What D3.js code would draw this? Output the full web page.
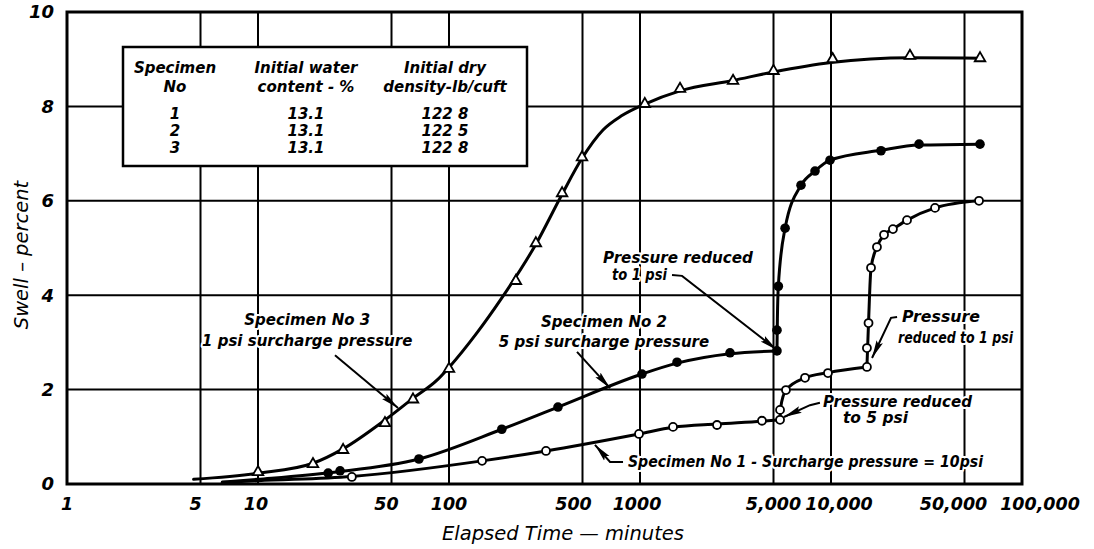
<!DOCTYPE html>
<html>
<head>
<meta charset="utf-8">
<script src="https://cdn.jsdelivr.net/npm/d3@7"></script>
<style>
  html, body { margin: 0; padding: 0; background: #fff; }
  svg text { font-family: "DejaVu Sans", "Liberation Sans", sans-serif; font-style: italic; fill: #000; }
</style>
</head>
<body>
<svg id="chart" width="1094" height="549"></svg>
<script>
// ---- Axis ticks -------------------------------------------------------
const xTicks      = [1, 5, 10, 50, 100, 500, 1000, 5000, 10000, 50000, 100000];
const xTickLabels = ["1", "5", "10", "50", "100", "500", "1000", "5,000", "10,000", "50,000", "100,000"];
const yTicks      = [0, 2, 4, 6, 8, 10];

// ---- Specimen table ---------------------------------------------------
const specimenNo   = ["1", "2", "3"];
const waterContent = ["13.1", "13.1", "13.1"];
const dryDensity   = ["122 8", "122 5", "122 8"];

// ---- Specimen 3: 1 psi surcharge (open triangles) ---------------------
const spec3Time  = [10, 19.4, 27.9, 46.2, 64.8, 100, 224, 285, 391, 497, 1060, 1620, 3070, 5000, 10200, 25900, 60300];
const spec3Swell = [0.23, 0.40, 0.70, 1.27, 1.77, 2.42, 4.28, 5.08, 6.14, 6.90, 8.03, 8.35, 8.52, 8.73, 8.98, 9.05, 9.00];
const spec3FitTime  = [4.6, 10, 19.4, 28, 46, 65, 86.5, 100, 140, 186, 285, 391, 497, 640, 800, 1060, 1620, 3070, 5000, 10000, 26000, 60000];
const spec3FitSwell = [0.10, 0.23, 0.44, 0.75, 1.35, 1.82, 2.20, 2.47, 3.20, 3.90, 5.08, 6.14, 6.90, 7.50, 7.80, 8.05, 8.33, 8.55, 8.73, 8.93, 9.03, 9.02];

// ---- Specimen 2: 5 psi surcharge, later reduced to 1 psi (filled dots) -
const spec2Time  = [23.3, 26.9, 69.6, 189, 372, 1024, 1563, 2960, 5214, 5214, 5300, 5750, 6966, 8247, 9880, 18270, 28900, 60260];
const spec2Swell = [0.23, 0.28, 0.53, 1.16, 1.63, 2.33, 2.58, 2.78, 2.82, 3.26, 4.19, 5.42, 6.33, 6.63, 6.86, 7.06, 7.20, 7.20];
const spec2FitTime  = [6.5, 10, 25, 69.6, 189, 372, 1024, 1563, 2960, 5214];
const spec2FitSwell = [0.04, 0.10, 0.25, 0.53, 1.16, 1.63, 2.33, 2.56, 2.76, 2.82];
const spec2ReboundTime  = [5214, 5240, 5300, 5750, 6966, 8247, 9880, 18270, 28900, 60260];
const spec2ReboundSwell = [2.82, 3.50, 4.19, 5.42, 6.33, 6.63, 6.86, 7.07, 7.18, 7.20];

// ---- Specimen 1: 10 psi surcharge, reduced to 5 then 1 psi (open dots) -
const spec1Time  = [31, 149, 322, 988, 1489, 2530, 4350, 5410, 5410, 5810, 7310, 9640, 15420, 15420, 15720, 16200, 17400, 18950, 21100, 25000, 35040, 59560];
const spec1Swell = [0.15, 0.49, 0.70, 1.06, 1.21, 1.25, 1.34, 1.36, 1.57, 1.99, 2.25, 2.35, 2.48, 2.88, 3.41, 4.58, 5.02, 5.28, 5.40, 5.59, 5.85, 6.00];
const spec1FitTime  = [6.5, 10, 31, 149, 322, 988, 1489, 2530, 4350, 5410];
const spec1FitSwell = [0.03, 0.07, 0.16, 0.49, 0.70, 1.06, 1.20, 1.27, 1.33, 1.36];
const spec1Rebound5Time  = [5410, 5450, 5810, 7310, 9640, 15420];
const spec1Rebound5Swell = [1.36, 1.62, 1.99, 2.25, 2.36, 2.48];
const spec1Rebound1Time  = [15420, 15720, 16200, 17400, 18950, 21100, 25000, 35040, 59560];
const spec1Rebound1Swell = [2.48, 3.41, 4.58, 5.02, 5.28, 5.40, 5.59, 5.85, 6.00];

// ---- Layout ------------------------------------------------------------
const svg = d3.select("#chart");
const plot = { left: 67, right: 1022, top: 12, bottom: 484 };
const x = d3.scaleLog().domain([1, 100000]).range([plot.left, plot.right]);
const y = d3.scaleLinear().domain([0, 10]).range([plot.bottom, plot.top]);
const xLabelNudge = [0, -5, -2, -5, 0, -9, -3, 0, 8, -11, 18];

// grid
const grid = svg.append("g").attr("stroke", "#000").attr("stroke-width", 2);
grid.selectAll("line.v").data(xTicks.slice(1, -1)).join("line")
  .attr("x1", d => x(d)).attr("x2", d => x(d))
  .attr("y1", plot.top).attr("y2", plot.bottom);
grid.selectAll("line.h").data(yTicks.slice(1, -1)).join("line")
  .attr("x1", plot.left).attr("x2", plot.right)
  .attr("y1", d => y(d)).attr("y2", d => y(d));

// frame
svg.append("rect")
  .attr("x", plot.left).attr("y", plot.top)
  .attr("width", plot.right - plot.left).attr("height", plot.bottom - plot.top)
  .attr("fill", "none").attr("stroke", "#000").attr("stroke-width", 3);

// axis tick labels
svg.append("g").selectAll("text").data(xTicks).join("text")
  .attr("x", (d, i) => x(d) + xLabelNudge[i])
  .attr("y", 510)
  .attr("text-anchor", "middle")
  .attr("font-size", 17.5).attr("font-weight", "bold")
  .text((d, i) => xTickLabels[i]);

svg.append("g").selectAll("text").data(yTicks).join("text")
  .attr("x", 54).attr("y", d => y(d)).attr("dy", "0.36em")
  .attr("text-anchor", "end")
  .attr("font-size", 18).attr("font-weight", "bold")
  .text(d => d);

// axis titles
svg.append("text")
  .attr("x", 563).attr("y", 540)
  .attr("text-anchor", "middle").attr("font-size", 19.5)
  .text("Elapsed Time \u2014 minutes");
svg.append("text")
  .attr("transform", "translate(28,255) rotate(-90)")
  .attr("text-anchor", "middle").attr("font-size", 19.5)
  .text("Swell \u2013 percent");

// specimen table
const table = svg.append("g");
table.append("rect")
  .attr("x", 123).attr("y", 47).attr("width", 404).attr("height", 119)
  .attr("fill", "#fff").attr("stroke", "#000").attr("stroke-width", 2.5);
const cols = [
  { cx: 175, head: ["Specimen", "No"], vals: specimenNo },
  { cx: 306, head: ["Initial water", "content - %"], vals: waterContent },
  { cx: 445, head: ["Initial dry", "density-lb/cuft"], vals: dryDensity }
];
const headRows = [73, 92], valRows = [119, 136, 153];
cols.forEach(c => {
  table.selectAll(null).data(c.head).join("text")
    .attr("x", c.cx).attr("y", (d, i) => headRows[i])
    .attr("text-anchor", "middle").attr("font-size", 15).attr("font-weight", "bold")
    .text(d => d);
  table.selectAll(null).data(c.vals).join("text")
    .attr("x", c.cx).attr("y", (d, i) => valRows[i])
    .attr("text-anchor", "middle").attr("font-size", 15).attr("font-weight", "bold")
    .text(d => d);
});

// arrowhead
svg.append("defs").append("marker")
  .attr("id", "arrow").attr("markerUnits", "userSpaceOnUse")
  .attr("viewBox", "0 0 18 8").attr("refX", 18).attr("refY", 4)
  .attr("markerWidth", 18).attr("markerHeight", 8).attr("orient", "auto")
  .append("path").attr("d", "M0,0.5 L18,4 L0,7.5 L3,4 Z").attr("fill", "#000");

// annotations (positions in time / swell units)
const notes = [
  { lines: ["Specimen No 3", "1 psi surcharge pressure"], at: [18.1, 3.37], anchor: "middle", gap: 21,
    leader: [[25.3, 2.73], [54.1, 1.61]] },
  { lines: ["Specimen No 2", "5 psi surcharge pressure"], at: [648, 3.33], anchor: "middle", gap: 20,
    leader: [[468, 2.80], [697, 2.03]] },
  { lines: ["Pressure reduced", "to 1 psi"], at: [640, 4.68], anchor: "start", gap: 17, indent: [0, 9], widths: [150, 55],
    leader: [[1471, 4.43], [1660, 4.41], [5213, 2.84]] },
  { lines: ["Pressure", "reduced to 1 psi"], at: [23540, 3.43], anchor: "start", gap: 21, indent: [0, -4], widths: [78, 115],
    leader: [[22180, 3.54], [20620, 3.52], [16400, 2.67]] },
  { lines: ["Pressure reduced", "to 5 psi"], at: [9080, 1.63], anchor: "start", gap: 16, indent: [0, 20], widths: [149, 65],
    leader: [[8750, 1.72], [7762, 1.67], [5675, 1.42]] },
  { lines: ["Specimen No 1 - Surcharge pressure = 10psi"], at: [865, 0.36], anchor: "start", gap: 0, widths: [355],
    leader: [[815, 0.466], [697, 0.466], [581, 0.83]] }
];

const noteText = svg.append("g");
notes.forEach(n => {
  n.lines.forEach((s, i) => {
    const t = noteText.append("text")
      .attr("x", x(n.at[0]) + (n.indent ? n.indent[i] : 0))
      .attr("y", y(n.at[1]) + i * n.gap)
      .attr("text-anchor", n.anchor)
      .attr("font-size", 15).attr("font-weight", "bold")
      .attr("stroke", "#fff").attr("stroke-width", 4).attr("paint-order", "stroke")
      .attr("stroke-linejoin", "round")
      .text(s);
    if (n.widths) t.attr("textLength", n.widths[i]).attr("lengthAdjust", "spacingAndGlyphs");
  });
});

// curves
const curve = d3.line().x(d => x(d[0])).y(d => y(d[1])).curve(d3.curveMonotoneX);
const fits = [
  d3.zip(spec3FitTime, spec3FitSwell),
  d3.zip(spec2FitTime, spec2FitSwell),
  d3.zip(spec2ReboundTime, spec2ReboundSwell),
  d3.zip(spec1FitTime, spec1FitSwell),
  d3.zip(spec1Rebound5Time, spec1Rebound5Swell),
  d3.zip(spec1Rebound1Time, spec1Rebound1Swell)
];
svg.append("g").selectAll("path").data(fits).join("path")
  .attr("d", curve).attr("fill", "none")
  .attr("stroke", "#000").attr("stroke-width", 3)
  .attr("stroke-linejoin", "round").attr("stroke-linecap", "round");

// leaders with arrowheads
svg.append("g").selectAll("path").data(notes).join("path")
  .attr("d", n => d3.line().x(d => x(d[0])).y(d => y(d[1]))(n.leader))
  .attr("fill", "none").attr("stroke", "#000").attr("stroke-width", 2)
  .attr("marker-end", "url(#arrow)");

// markers
const tri = d3.symbol(d3.symbolTriangle, 48);
svg.append("g").selectAll("path").data(d3.zip(spec3Time, spec3Swell)).join("path")
  .attr("transform", d => `translate(${x(d[0])},${y(d[1]) - 1})`)
  .attr("d", tri).attr("fill", "#fff").attr("stroke", "#000").attr("stroke-width", 1.8);

svg.append("g").selectAll("circle").data(d3.zip(spec2Time, spec2Swell)).join("circle")
  .attr("cx", d => x(d[0])).attr("cy", d => y(d[1])).attr("r", 4.8)
  .attr("fill", "#000");

svg.append("g").selectAll("circle").data(d3.zip(spec1Time, spec1Swell)).join("circle")
  .attr("cx", d => x(d[0])).attr("cy", d => y(d[1])).attr("r", 4)
  .attr("fill", "#fff").attr("stroke", "#000").attr("stroke-width", 1.8);
</script>
</body>
</html>
